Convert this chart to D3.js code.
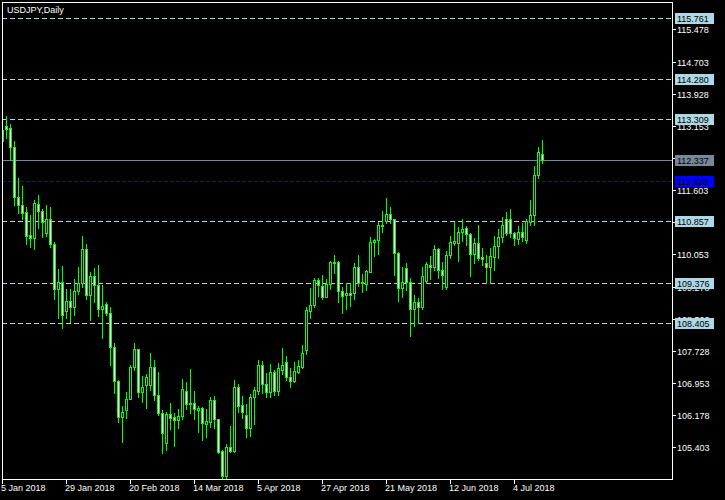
<!DOCTYPE html>
<html>
<head>
<meta charset="utf-8">
<script src="https://cdn.jsdelivr.net/npm/d3@7/dist/d3.min.js"></script>
<style>
html,body{margin:0;padding:0;background:#000;}
svg{display:block;}
text{font-family:"Liberation Sans",Arial,sans-serif;font-size:9px;}
</style>
</head>
<body>
<script>
const title = "USDJPY,Daily";

const dates = [
"2018-01-05",
"2018-01-08","2018-01-09","2018-01-10","2018-01-11","2018-01-12",
"2018-01-15","2018-01-16","2018-01-17","2018-01-18","2018-01-19",
"2018-01-22","2018-01-23","2018-01-24","2018-01-25","2018-01-26",
"2018-01-29","2018-01-30","2018-01-31","2018-02-01","2018-02-02",
"2018-02-05","2018-02-06","2018-02-07","2018-02-08","2018-02-09",
"2018-02-12","2018-02-13","2018-02-14","2018-02-15","2018-02-16",
"2018-02-19","2018-02-20","2018-02-21","2018-02-22","2018-02-23",
"2018-02-26","2018-02-27","2018-02-28","2018-03-01","2018-03-02",
"2018-03-05","2018-03-06","2018-03-07","2018-03-08","2018-03-09",
"2018-03-12","2018-03-13","2018-03-14","2018-03-15","2018-03-16",
"2018-03-19","2018-03-20","2018-03-21","2018-03-22","2018-03-23",
"2018-03-26","2018-03-27","2018-03-28","2018-03-29","2018-03-30",
"2018-04-02","2018-04-03","2018-04-04","2018-04-05","2018-04-06",
"2018-04-09","2018-04-10","2018-04-11","2018-04-12","2018-04-13",
"2018-04-16","2018-04-17","2018-04-18","2018-04-19","2018-04-20",
"2018-04-23","2018-04-24","2018-04-25","2018-04-26","2018-04-27",
"2018-04-30","2018-05-01","2018-05-02","2018-05-03","2018-05-04",
"2018-05-07","2018-05-08","2018-05-09","2018-05-10","2018-05-11",
"2018-05-14","2018-05-15","2018-05-16","2018-05-17","2018-05-18",
"2018-05-21","2018-05-22","2018-05-23","2018-05-24","2018-05-25",
"2018-05-28","2018-05-29","2018-05-30","2018-05-31","2018-06-01",
"2018-06-04","2018-06-05","2018-06-06","2018-06-07","2018-06-08",
"2018-06-11","2018-06-12","2018-06-13","2018-06-14","2018-06-15",
"2018-06-18","2018-06-19","2018-06-20","2018-06-21","2018-06-22",
"2018-06-25","2018-06-26","2018-06-27","2018-06-28","2018-06-29",
"2018-07-02","2018-07-03","2018-07-04","2018-07-05","2018-07-06",
"2018-07-09","2018-07-10","2018-07-11","2018-07-12","2018-07-13"
];

const open = [
112.80,113.15,113.10,112.64,111.43,111.24,111.07,110.52,110.44,111.26,
111.09,110.56,110.92,110.31,109.22,109.40,108.70,108.94,108.78,109.18,
109.37,110.18,109.08,109.54,109.32,108.73,108.86,108.63,107.81,107.00,
106.13,106.30,106.57,107.33,107.77,106.74,106.90,106.90,107.33,106.66,
106.22,105.50,106.20,106.13,106.05,106.17,106.75,106.44,106.46,106.30,
106.34,105.96,106.02,106.54,106.09,105.32,104.72,105.40,105.32,106.85,
106.42,106.18,105.88,106.61,106.77,107.39,106.94,106.74,107.21,106.77,
107.27,107.45,107.11,106.99,107.23,107.35,107.75,108.70,108.83,109.44,
109.29,109.03,109.33,109.88,109.86,109.18,109.08,109.12,109.12,109.74,
109.37,109.33,109.64,110.35,110.39,110.75,110.87,111.03,110.90,110.08,
109.24,109.72,109.40,108.75,108.90,108.79,109.42,109.81,109.76,110.18,
109.69,109.28,110.04,110.34,110.32,110.60,110.68,110.55,110.06,110.34,
109.98,109.85,109.74,110.00,110.26,110.48,110.90,110.90,110.56,110.42,
110.60,110.40,110.84,111.00,111.98,112.47
];
const high = [
113.07,113.39,113.20,112.78,111.89,111.70,111.19,111.00,111.37,111.49,
111.14,111.25,111.19,110.36,109.70,109.78,109.21,109.21,109.45,109.74,
110.50,110.30,109.64,109.72,109.80,109.32,108.91,108.78,107.91,107.03,
106.40,106.73,107.39,107.91,107.77,107.12,107.17,107.67,107.52,107.21,
106.30,106.26,106.46,106.24,106.32,107.05,106.97,107.29,106.75,106.41,
106.37,106.33,106.61,106.64,106.09,105.35,105.48,105.92,107.02,106.94,
106.64,106.45,106.69,106.85,107.51,107.48,107.19,107.41,107.27,107.43,
107.79,107.60,107.31,107.47,107.52,107.87,108.78,109.24,109.48,109.48,
109.56,109.45,109.90,110.04,109.90,109.28,109.37,109.37,109.84,110.04,
109.58,109.68,110.47,110.42,110.84,111.10,111.41,111.20,110.92,110.12,
109.76,109.84,109.48,109.07,109.01,109.74,109.88,110.02,110.28,110.22,
109.88,110.14,110.50,110.84,110.71,110.90,110.74,110.58,110.44,110.76,
110.22,110.04,110.22,110.50,110.66,110.95,111.08,111.14,110.60,110.74,
110.80,110.90,111.37,112.19,112.64,112.81
];
const low = [
112.73,112.87,112.35,111.25,111.05,110.92,110.31,110.24,110.19,110.70,
110.48,110.50,110.24,108.97,108.51,108.29,108.51,108.43,108.59,109.09,
109.28,108.99,108.47,108.91,108.57,108.05,108.59,107.39,106.72,106.02,
105.54,106.10,106.56,107.27,106.62,106.50,106.36,106.78,106.54,106.18,
105.26,105.35,105.84,105.44,105.88,106.09,106.32,106.24,106.08,105.78,
105.59,105.66,105.90,105.88,105.26,104.65,104.60,105.30,105.30,106.26,
106.12,105.66,105.68,105.96,106.70,106.72,106.61,106.62,106.66,106.66,
107.17,107.03,106.86,106.97,107.19,107.31,107.65,108.53,108.78,109.06,
108.97,109.02,109.22,109.60,108.91,108.65,108.75,108.81,108.99,109.29,
109.16,109.20,109.64,110.02,110.06,110.60,110.82,110.80,109.56,108.94,
109.02,109.20,108.09,108.34,108.39,108.73,109.36,109.46,109.69,109.48,
109.21,109.21,109.96,110.28,109.90,110.38,110.28,109.54,109.84,109.92,
109.80,109.37,109.37,109.69,109.96,110.36,110.52,110.48,110.28,110.30,
110.38,110.34,110.76,110.76,111.90,112.27
];
const close = [
113.05,113.09,112.64,111.43,111.24,111.05,110.51,110.44,111.29,111.10,
110.83,110.92,110.31,109.22,109.40,108.59,108.94,108.78,109.18,109.37,
110.18,109.08,109.54,109.32,108.73,108.80,108.63,107.81,106.99,106.13,
106.25,106.58,107.33,107.77,106.74,106.86,107.10,107.33,106.66,106.22,
105.74,106.21,106.10,106.05,106.17,106.80,106.44,106.48,106.32,106.34,
105.98,106.03,106.54,106.08,105.30,104.72,105.40,105.32,106.85,106.40,
106.26,105.88,106.62,106.78,107.39,106.94,106.74,107.21,106.77,107.31,
107.39,107.11,106.99,107.25,107.36,107.67,108.71,108.83,109.44,109.32,
109.03,109.33,109.88,109.84,109.18,109.05,109.12,109.08,109.74,109.37,
109.40,109.65,110.36,110.40,110.76,110.76,111.04,110.90,110.08,109.24,
109.38,109.40,108.75,108.90,108.79,109.53,109.82,109.76,110.18,109.69,
109.56,110.04,110.36,110.38,110.60,110.66,110.55,110.06,110.34,109.96,
109.95,109.74,110.01,110.26,110.48,110.76,110.58,110.56,110.44,110.59,
110.48,110.87,111.00,111.98,112.53,112.337
];

const priceTicks = [115.478,114.703,113.928,113.153,112.378,111.603,110.828,110.053,109.278,108.503,107.728,106.953,106.178,105.403];
const levelValues = [115.761,114.280,113.309,110.857,109.376,108.405];
const bluelineValue = 111.828;
const bidValue = 112.337;
const xTickDates = ["2018-01-05","2018-01-29","2018-02-20","2018-03-14","2018-04-05","2018-04-27","2018-05-21","2018-06-12","2018-07-04"];
const xTickLabels = ["5 Jan 2018","29 Jan 2018","20 Feb 2018","14 Mar 2018","5 Apr 2018","27 Apr 2018","21 May 2018","12 Jun 2018","4 Jul 2018"];

const W = 725, H = 500;
const L = 2, R = 672, T = 2, B = 479;

const svg = d3.select("body").append("svg").attr("width", W).attr("height", H);
svg.append("rect").attr("width", W).attr("height", H).attr("fill", "#000");

const x = d3.scalePoint().domain(dates).range([2.5, 2.5 + 4 * (dates.length - 1)]);
const y = d3.scaleLinear().domain([104.639, 116.189]).range([479, 0]);
const cy = v => Math.round(y(v)) + 0.5;

svg.append("clipPath").attr("id", "clip").append("rect")
  .attr("x", L + 1).attr("y", T + 1).attr("width", R - L - 1).attr("height", B - T - 1);

const plot = svg.append("g").attr("clip-path", "url(#clip)");

// level lines
plot.selectAll("line.lvl").data(levelValues).enter().append("line")
  .attr("x1", L).attr("x2", R).attr("y1", d => cy(d)).attr("y2", d => cy(d))
  .attr("stroke", "#add8e6").attr("stroke-width", 1).attr("stroke-dasharray", "5,3");
plot.append("line").attr("x1", L).attr("x2", R)
  .attr("y1", cy(bluelineValue)).attr("y2", cy(bluelineValue))
  .attr("stroke", "#0000ff").attr("stroke-dasharray", "4,2");
plot.append("line").attr("x1", L).attr("x2", R)
  .attr("y1", cy(bidValue)).attr("y2", cy(bidValue))
  .attr("stroke", "#778899");

// candles
const idx = d3.range(dates.length);
const candles = plot.selectAll("g.c").data(idx).enter().append("g");
candles.append("line")
  .attr("x1", i => x(dates[i])).attr("x2", i => x(dates[i]))
  .attr("y1", i => Math.round(y(high[i]))).attr("y2", i => Math.round(y(low[i])) + 1)
  .attr("stroke", "#00ff00").attr("stroke-width", 1);
candles.append("rect")
  .attr("x", i => x(dates[i]) - 1)
  .attr("y", i => Math.round(y(Math.max(open[i], close[i]))) + 0.5)
  .attr("width", 2)
  .attr("height", i => Math.max(1, Math.round(y(Math.min(open[i], close[i]))) - Math.round(y(Math.max(open[i], close[i])))))
  .attr("fill", i => close[i] >= open[i] ? "#000" : "#fff")
  .attr("stroke", "#00ff00").attr("stroke-width", 1);

// frame
const frame = svg.append("g").attr("stroke", "#fff").attr("stroke-width", 1);
frame.append("line").attr("x1", L + 0.5).attr("x2", L + 0.5).attr("y1", T).attr("y2", B + 1);
frame.append("line").attr("x1", L).attr("x2", R + 1).attr("y1", T + 0.5).attr("y2", T + 0.5);
frame.append("line").attr("x1", R + 0.5).attr("x2", R + 0.5).attr("y1", T).attr("y2", B + 1);
frame.append("line").attr("x1", L).attr("x2", R + 1).attr("y1", B + 0.5).attr("y2", B + 0.5);

// price axis
const pa = svg.append("g");
pa.selectAll("line").data(priceTicks).enter().append("line")
  .attr("x1", R).attr("x2", R + 4).attr("y1", d => cy(d)).attr("y2", d => cy(d))
  .attr("stroke", "#fff");
pa.selectAll("text").data(priceTicks).enter().append("text")
  .attr("x", R + 5).attr("y", d => Math.round(y(d)) + 4)
  .attr("fill", "#fff").text(d => d.toFixed(3));

// level labels
function levelLabel(v, bg, fg) {
  const yy = Math.round(y(v));
  svg.append("rect").attr("x", R + 3).attr("y", yy - 5).attr("width", 39).attr("height", 11).attr("fill", bg);
  svg.append("text").attr("x", R + 5).attr("y", yy + 4).attr("fill", fg).text(v.toFixed(3));
}
levelValues.forEach(v => levelLabel(v, "#add8e6", "#000"));
levelLabel(bluelineValue, "#0000ff", "#000");
levelLabel(bidValue, "#778899", "#000");

// time axis
const ta = svg.append("g");
xTickDates.forEach((d, k) => {
  const xx = Math.floor(x(d)) + 0.5;
  ta.append("line").attr("x1", xx).attr("x2", xx).attr("y1", B).attr("y2", B + 5).attr("stroke", "#fff");
  ta.append("text").attr("x", Math.floor(x(d)) - 1).attr("y", 491).attr("fill", "#fff").text(xTickLabels[k]);
});

// title
svg.append("text").attr("x", 7).attr("y", 13).attr("fill", "#fff").text(title);
</script>
</body>
</html>
